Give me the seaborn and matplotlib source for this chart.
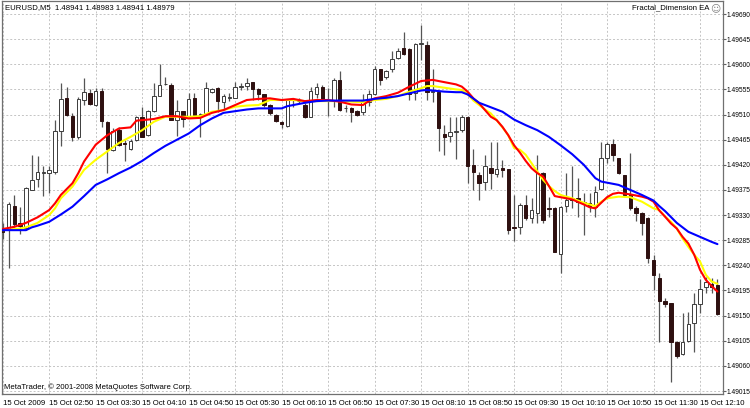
import numpy as np
import pandas as pd
import matplotlib
matplotlib.use("Agg")
import matplotlib.pyplot as plt
import seaborn as sns

# ---- candle data (EURUSD M5) ----
opens = [1.49305,1.49305,1.49347,1.49315,1.49306,1.49375,1.49395,1.49406,1.49406,1.49408,
         1.49481,1.49539,1.49508,1.49469,1.49536,1.49548,1.49527,1.49552,1.49497,1.49447,
         1.49482,1.49459,1.49448,1.49465,1.49506,1.49473,1.49516,1.49544,1.49564,1.49563,
         1.49500,1.49516,1.49507,1.49539,1.49510,1.49511,1.49551,1.49557,1.49533,1.49540,
         1.49540,1.49559,1.49561,1.49568,1.49556,1.49546,1.49527,1.49510,1.49496,1.49490,
         1.49536,1.49534,1.49527,1.49506,1.49547,1.49560,1.49536,1.49534,1.49572,1.49521,
         1.49521,1.49517,1.49515,1.49533,1.49547,1.49591,1.49577,1.49591,1.49611,1.49629,
         1.49627,1.49548,1.49637,1.49635,1.49550,1.49551,1.49476,1.49472,1.49479,1.49482,
         1.49506,1.49420,1.49402,1.49390,1.49414,1.49403,1.49415,1.49412,1.49309,1.49309,
         1.49348,1.49324,1.49334,1.49405,1.49343,1.49343,1.49260,1.49346,1.49360,1.49360,
         1.49352,1.49352,1.49345,1.49376,1.49432,1.49457,1.49432,1.49401,1.49368,1.49342,
         1.49334,1.49324,1.49250,1.49217,1.49177,1.49172,1.49103,1.49081,1.49105,1.49136,
         1.49171,1.49201,1.49207,1.49204]
highs = [1.49315,1.49354,1.49366,1.49345,1.49381,1.49438,1.49435,1.49418,1.49417,1.49500,
         1.49567,1.49559,1.49512,1.49542,1.49576,1.49555,1.49557,1.49557,1.49499,1.49485,
         1.49487,1.49465,1.49466,1.49507,1.49524,1.49518,1.49567,1.49600,1.49578,1.49567,
         1.49536,1.49516,1.49549,1.49549,1.49512,1.49569,1.49557,1.49560,1.49546,1.49548,
         1.49569,1.49566,1.49576,1.49569,1.49557,1.49547,1.49528,1.49511,1.49499,1.49537,
         1.49539,1.49540,1.49530,1.49560,1.49567,1.49562,1.49557,1.49575,1.49588,1.49527,
         1.49523,1.49519,1.49547,1.49554,1.49597,1.49592,1.49590,1.49623,1.49629,1.49657,
         1.49629,1.49638,1.49670,1.49642,1.49592,1.49552,1.49491,1.49506,1.49506,1.49509,
         1.49507,1.49448,1.49408,1.49438,1.49460,1.49460,1.49429,1.49413,1.49366,1.49351,
         1.49366,1.49360,1.49438,1.49408,1.49362,1.49345,1.49346,1.49405,1.49418,1.49396,
         1.49369,1.49369,1.49382,1.49460,1.49461,1.49467,1.49433,1.49402,1.49442,1.49346,
         1.49336,1.49326,1.49259,1.49227,1.49181,1.49173,1.49105,1.49154,1.49157,1.49190,
         1.49215,1.49219,1.49217,1.49215]
lows = [1.49288,1.49235,1.49309,1.49296,1.49303,1.49374,1.49381,1.49365,1.49369,1.49404,
        1.49454,1.49507,1.49462,1.49466,1.49527,1.49527,1.49526,1.49488,1.49405,1.49445,
        1.49454,1.49427,1.49447,1.49463,1.49469,1.49472,1.49515,1.49543,1.49563,1.49500,
        1.49472,1.49487,1.49505,1.49507,1.49469,1.49509,1.49548,1.49515,1.49518,1.49534,
        1.49539,1.49554,1.49554,1.49536,1.49536,1.49523,1.49509,1.49496,1.49485,1.49488,
        1.49523,1.49530,1.49504,1.49505,1.49539,1.49534,1.49507,1.49524,1.49517,1.49515,
        1.49497,1.49507,1.49510,1.49525,1.49545,1.49563,1.49573,1.49587,1.49609,1.49617,
        1.49536,1.49536,1.49608,1.49536,1.49533,1.49444,1.49438,1.49460,1.49430,1.49479,
        1.49387,1.49375,1.49357,1.49375,1.49376,1.49399,1.49399,1.49296,1.49284,1.49296,
        1.49322,1.49316,1.49316,1.49315,1.49327,1.49263,1.49226,1.49336,1.49342,1.49327,
        1.49294,1.49336,1.49326,1.49375,1.49423,1.49426,1.49404,1.49363,1.49339,1.49320,
        1.49294,1.49245,1.49196,1.49103,1.49166,1.49032,1.49074,1.49079,1.49103,1.49085,
        1.49154,1.49190,1.49190,1.49151]
closes = [1.49300,1.49350,1.49314,1.49311,1.49378,1.49392,1.49407,1.49407,1.49410,1.49481,
          1.49538,1.49509,1.49470,1.49538,1.49551,1.49528,1.49552,1.49499,1.49448,1.49481,
          1.49456,1.49458,1.49463,1.49506,1.49470,1.49516,1.49543,1.49563,1.49565,1.49500,
          1.49516,1.49502,1.49538,1.49509,1.49511,1.49557,1.49555,1.49534,1.49543,1.49540,
          1.49560,1.49561,1.49567,1.49555,1.49547,1.49527,1.49512,1.49499,1.49493,1.49536,
          1.49537,1.49535,1.49505,1.49552,1.49559,1.49536,1.49536,1.49572,1.49519,1.49521,
          1.49515,1.49510,1.49534,1.49547,1.49591,1.49571,1.49588,1.49609,1.49624,1.49618,
          1.49547,1.49636,1.49638,1.49551,1.49552,1.49485,1.49470,1.49478,1.49480,1.49506,
          1.49418,1.49408,1.49387,1.49418,1.49406,1.49412,1.49410,1.49304,1.49306,1.49348,
          1.49324,1.49339,1.49405,1.49321,1.49340,1.49264,1.49345,1.49357,1.49357,1.49354,
          1.49353,1.49346,1.49371,1.49432,1.49457,1.49438,1.49405,1.49366,1.49343,1.49334,
          1.49316,1.49254,1.49223,1.49177,1.49170,1.49103,1.49077,1.49103,1.49135,1.49171,
          1.49197,1.49211,1.49201,1.49153]

# ---- indicator lines (bar index, value) ----
red_bars = [0,2,4,6,8,9,10,12,13,14,16,18,20,22,23,26,28,30,32,34,36,38,40,42,44,46,48,50,52,54,
            56,58,60,62,63,64,66,68,70,72,74,76,78,79,80,81,82,83,84,85,86,87,88,89,90,91,92,93,94,95,
            96,98,100,101,102,103,104,105,106,108,110,111,112,113,114,115,116,117,118,119,120,121,122,123]
red_vals = [1.49305,1.49309,1.49316,1.49326,1.49339,1.49351,1.49366,1.49387,1.49405,1.49426,
            1.49456,1.49473,1.49485,1.49487,1.49499,1.49502,1.49507,1.49507,1.49503,1.49504,
            1.49513,1.49518,1.49527,1.49536,1.49538,1.49539,1.49536,1.49538,1.49534,1.49536,
            1.49536,1.49533,1.49528,1.49527,1.49534,1.49539,1.49543,1.49549,1.49560,1.49570,
            1.49572,1.49568,1.49564,1.49560,1.49551,1.49539,1.49530,1.49518,1.49506,1.49500,
            1.49488,1.49473,1.49455,1.49442,1.49427,1.49414,1.49405,1.49399,1.49382,1.49364,
            1.49362,1.49358,1.49349,1.49344,1.49342,1.49352,1.49362,1.49368,1.49370,1.49367,
            1.49363,1.49360,1.49354,1.49338,1.49327,1.49315,1.49306,1.49291,1.49279,1.49259,
            1.49232,1.49214,1.49203,1.49193]
yellow_bars = [0,3,4,6,8,9,10,12,13,14,16,18,20,22,24,26,28,30,32,34,36,38,40,42,44,46,48,50,52,54,
               56,58,60,62,64,66,68,70,72,73,74,76,78,79,80,81,82,83,84,85,86,87,88,89,90,91,92,93,94,95,
               96,98,100,102,103,104,106,108,109,110,111,112,113,114,115,116,117,118,119,120,121,122,123]
yellow_vals = [1.49303,1.49306,1.49308,1.49316,1.49330,1.49342,1.49360,1.49381,1.49396,1.49411,
               1.49429,1.49444,1.49459,1.49470,1.49482,1.49497,1.49506,1.49506,1.49506,1.49507,
               1.49515,1.49518,1.49524,1.49526,1.49527,1.49536,1.49536,1.49536,1.49534,1.49534,
               1.49534,1.49534,1.49533,1.49532,1.49536,1.49538,1.49543,1.49551,1.49557,1.49561,
               1.49561,1.49558,1.49555,1.49554,1.49547,1.49535,1.49527,1.49519,1.49512,1.49500,
               1.49487,1.49473,1.49450,1.49447,1.49438,1.49423,1.49408,1.49393,1.49382,1.49373,
               1.49366,1.49360,1.49352,1.49346,1.49354,1.49360,1.49363,1.49362,1.49358,1.49354,
               1.49348,1.49342,1.49339,1.49327,1.49318,1.49306,1.49288,1.49273,1.49259,1.49247,
               1.49223,1.49211,1.49207]
blue_bars = [0,4,5,6,8,10,12,14,16,18,20,22,24,26,28,30,32,34,36,38,40,42,44,48,49,50,52,54,56,62,
             64,66,68,70,72,73,74,76,78,79,80,82,84,86,88,90,92,94,96,98,100,102,103,104,106,108,110,
             112,113,114,116,118,120,122,123]
blue_vals = [1.49303,1.49303,1.49308,1.49311,1.49318,1.49331,1.49345,1.49364,1.49384,1.49394,
             1.49405,1.49415,1.49427,1.49441,1.49454,1.49465,1.49476,1.49491,1.49503,1.49513,
             1.49516,1.49519,1.49521,1.49521,1.49525,1.49527,1.49531,1.49534,1.49535,1.49535,
             1.49538,1.49540,1.49543,1.49548,1.49553,1.49554,1.49553,1.49551,1.49550,1.49550,
             1.49546,1.49531,1.49523,1.49515,1.49501,1.49491,1.49482,1.49470,1.49455,1.49439,
             1.49420,1.49396,1.49390,1.49388,1.49384,1.49375,1.49366,1.49356,1.49346,1.49337,
             1.49316,1.49300,1.49291,1.49282,1.49278]

# ---- axis labels ----
price_ticks = [1.49015,1.49060,1.49105,1.49150,1.49195,1.49240,1.49285,1.49330,
               1.49375,1.49420,1.49465,1.49510,1.49555,1.49600,1.49645,1.49690]
time_tick_bars = [0,8,16,24,32,40,48,56,64,72,80,88,96,104,112,120]
time_labels = ["15 Oct 2009","15 Oct 02:50","15 Oct 03:30","15 Oct 04:10","15 Oct 04:50",
               "15 Oct 05:30","15 Oct 06:10","15 Oct 06:50","15 Oct 07:30","15 Oct 08:10",
               "15 Oct 08:50","15 Oct 09:30","15 Oct 10:10","15 Oct 10:50","15 Oct 11:30",
               "15 Oct 12:10"]

sns.set_style("white")
plt.rcParams['font.family'] = ['Liberation Sans', 'DejaVu Sans']

W, H = 750, 408
fig = plt.figure(figsize=(W / 100, H / 100), dpi=100)
ax = fig.add_axes([1.5 / W, 14 / H, 721 / W, 393 / H])

o = np.array(opens); h = np.array(highs); l = np.array(lows); c = np.array(closes)
idx = np.arange(len(o))
bull = c >= o

# wicks
ax.vlines(idx, l, h, color='#555555', linewidth=0.9, zorder=2)
# bodies
bottoms = np.minimum(o, c)
heights = np.maximum(np.abs(c - o), 0.000006)
ax.bar(idx[bull], heights[bull], bottom=bottoms[bull], width=0.6, color='white',
       edgecolor='#3c3c3c', linewidth=0.7, zorder=3)
ax.bar(idx[~bull], heights[~bull], bottom=bottoms[~bull], width=0.6, color='#2e1010',
       edgecolor='#2e1010', linewidth=0.7, zorder=3)

# indicator lines
lines = pd.concat([
    pd.DataFrame({'bar': yellow_bars, 'value': yellow_vals, 'line': 'yellow'}),
    pd.DataFrame({'bar': red_bars, 'value': red_vals, 'line': 'red'}),
    pd.DataFrame({'bar': blue_bars, 'value': blue_vals, 'line': 'blue'}),
])
sns.lineplot(data=lines, x='bar', y='value', hue='line',
             palette={'yellow': '#ffff00', 'red': '#ff0000', 'blue': '#0000ff'},
             linewidth=1.5, legend=False, ax=ax, zorder=4, estimator=None, sort=False)

ax.set_xlim(-0.21, 123.87)
ax.set_ylim(1.4900963, 1.4971328)

ax.set_xticks(time_tick_bars)
ax.set_xticklabels(time_labels, ha='left')
ax.set_yticks(price_ticks)
ax.set_yticklabels([f"{v:.5f}" for v in price_ticks])
ax.yaxis.tick_right()
ax.tick_params(axis='y', length=2.2, width=0.8, color='#606060', pad=0.8, labelsize=4.8, labelcolor='black')
ax.tick_params(axis='x', length=3, width=0.8, color='#606060', pad=1.5, labelsize=5.6, labelcolor='black')
ax.set_xlabel('')
ax.set_ylabel('')

ax.grid(True, color='#c4c4c4', linestyle=(0, (2, 2)), linewidth=0.7)
ax.set_axisbelow(True)
for s in ax.spines.values():
    s.set_visible(True)
    s.set_color('#707070')
    s.set_linewidth(0.9)

fig.text(5 / W, 1 - 8 / H, "EURUSD,M5  1.48941 1.48983 1.48941 1.48979",
         fontsize=5.6, ha='left', va='center', color='black')
fig.text(709 / W, 1 - 8 / H, "Fractal_Dimension EA", fontsize=5.6, ha='right', va='center', color='black')
fig.text(715.5 / W, 1 - 8 / H, "\u263a", fontsize=7, ha='center', va='center', color='#808080',
         family=['DejaVu Sans'])
fig.text(4 / W, 1 - 387 / H, "MetaTrader, \u00a9 2001-2008 MetaQuotes Software Corp.",
         fontsize=5.6, ha='left', va='center', color='black')

fig.savefig("out.png", dpi=100)
